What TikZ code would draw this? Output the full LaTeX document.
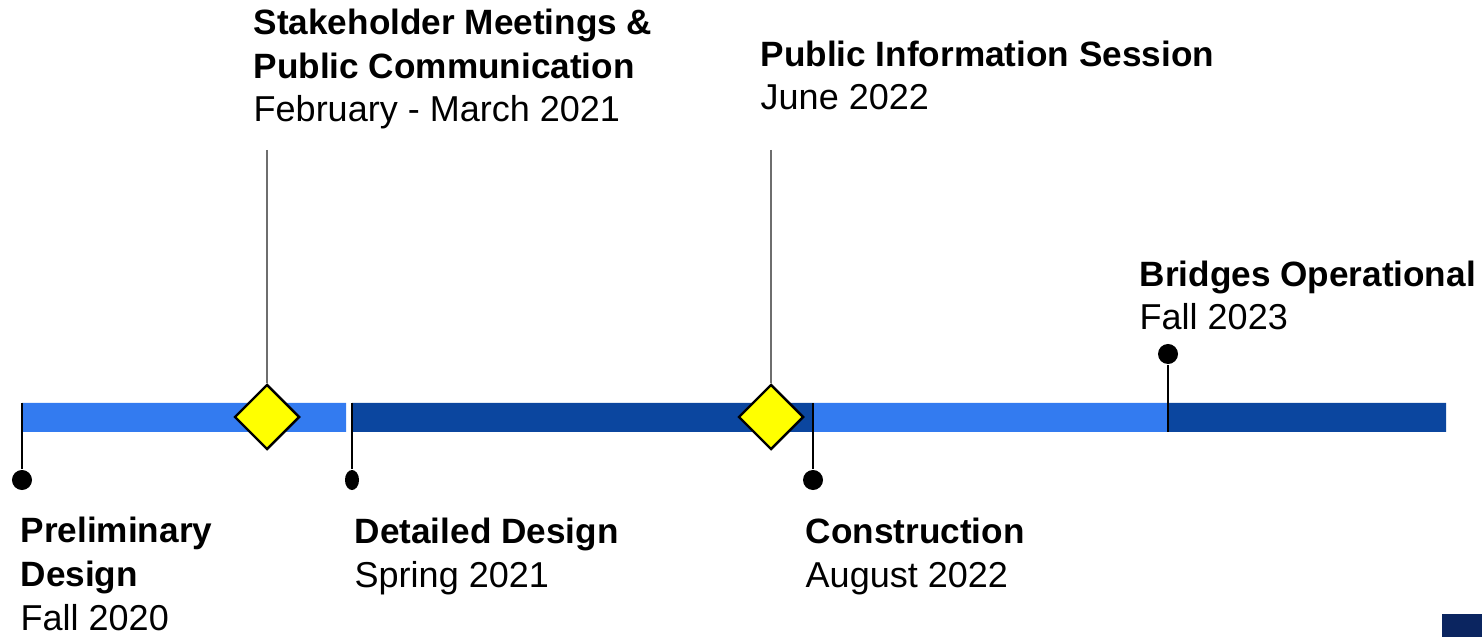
\documentclass[tikz,border=0pt]{standalone}
\usepackage{fontspec}
\setmainfont{Liberation Sans}
\usetikzlibrary{calc,positioning,shapes.geometric}
\definecolor{barlight}{RGB}{51,123,240}
\definecolor{bardark}{RGB}{11,70,159}
\definecolor{cornernavy}{RGB}{11,37,96}
\definecolor{msyellow}{RGB}{255,255,0}
\definecolor{leadergray}{RGB}{110,110,110}
\newcommand{\mshead}{\fontsize{10.0}{12.5}\selectfont\bfseries}

\begin{document}
\begin{tikzpicture}[x=0.01cm,y=-0.01cm,
		mstext/.style={anchor=base west,align=left,inner sep=0pt,font=\fontsize{10.24}{12.5}\selectfont},
		pin/.style={circle,fill=black,inner sep=0pt,minimum size=0.2cm},
		milestone/.style={diamond,draw=black,line width=0.7pt,fill=msyellow,inner sep=0pt,minimum size=0.65cm},
		stem/.style={line width=0.6pt},
		leader/.style={draw=leadergray,line width=0.6pt}]
		\useasboundingbox (0,0) rectangle (1482,637);
		\path
			(22,403) coordinate (s-prelim)
			(352,403) coordinate (s-detail)
			(813,403) coordinate (s-constr)
			(1168,432) coordinate (s-bridge)
			(267,150) coordinate (l-stake)
			(771,150) coordinate (l-pub)
			;
		% timeline bar
		\fill[barlight]
			(22,403) rectangle (346,432)
			(813,403) rectangle (1168,432)
			;
		\fill[bardark]
			(352,403) rectangle (813,432)
			(1168,403) rectangle (1446,432)
			;
		% pins
		\node[pin] (p-prelim) at (22,480) {};
		\node[ellipse,fill=black,inner sep=0pt,minimum width=0.14cm,minimum height=0.2cm] (p-detail) at (352,480) {};
		\node[pin] (p-constr) at (813,480) {};
		\node[pin] (p-bridge) at (1168,354) {};
		\draw[stem] (s-prelim) -- (p-prelim);
		\draw[stem] (s-detail) -- (p-detail);
		\draw[stem] (s-constr) -- (p-constr);
		\draw[stem] (s-bridge) -- (p-bridge);
		% milestones
		\node[milestone] (d-stake) at (267,417) {};
		\node[milestone] (d-pub) at (771,417) {};
		\draw[leader] (l-stake) -- (d-stake);
		\draw[leader] (l-pub) -- (d-pub);
		% labels (base = last line)
		\node[mstext] (t-stake) at (253,122) {\mshead Stakeholder Meetings \&\\\mshead Public Communication\\February - March 2021};
		\node[mstext] (t-pub) at (760,110) {\mshead Public Information Session\\June 2022};
		\node[mstext] (t-bridge) at (1139,330) {\mshead Bridges Operational\\Fall 2023};
		\node[mstext] (t-prelim) at (20,630) {\mshead Preliminary\\\mshead Design\\Fall 2020};
		\node[mstext] (t-detail) at (354,587) {\mshead Detailed Design\\Spring 2021};
		\node[mstext] (t-constr) at (805,587) {\mshead Construction\\August 2022};
		\fill[cornernavy] (1442,614) rectangle (1482,637);
	\end{tikzpicture}
\end{document}
